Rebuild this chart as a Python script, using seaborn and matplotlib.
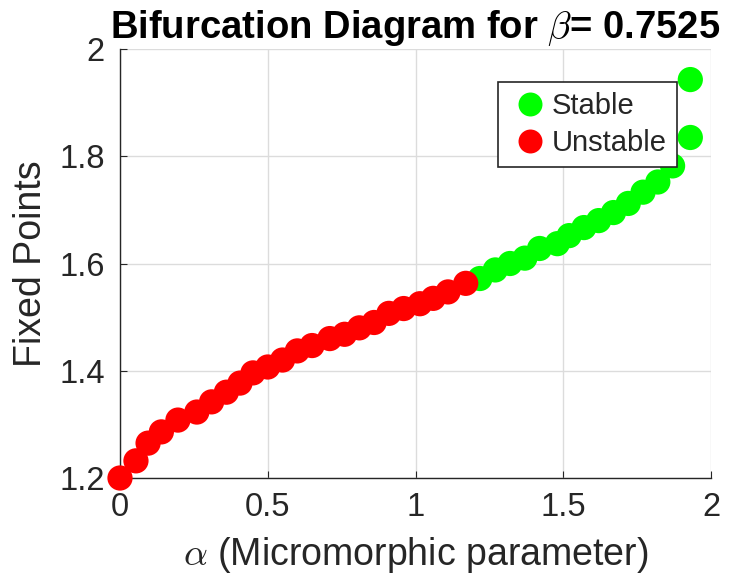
import numpy as np
import pandas as pd
import matplotlib
matplotlib.use("Agg")
import matplotlib.pyplot as plt
import seaborn as sns

# fixed points
unstable_alpha = [0.0, 0.054, 0.095, 0.14, 0.196, 0.26, 0.31, 0.36, 0.406, 0.45,
                  0.50, 0.55, 0.60, 0.65, 0.71, 0.76, 0.81, 0.86, 0.91, 0.96,
                  1.015, 1.06, 1.11, 1.17]
unstable_fp = [1.20, 1.232, 1.265, 1.286, 1.308, 1.323, 1.342, 1.36, 1.377, 1.396,
               1.407, 1.42, 1.437, 1.447, 1.46, 1.468, 1.48, 1.49, 1.507, 1.516,
               1.525, 1.535, 1.547, 1.563]
stable_alpha = [1.218, 1.27, 1.32, 1.37, 1.42, 1.48, 1.52, 1.57, 1.62, 1.67,
                1.72, 1.77, 1.82, 1.87, 1.93, 1.93]
stable_fp = [1.572, 1.588, 1.60, 1.61, 1.628, 1.637, 1.652, 1.667, 1.68, 1.695,
             1.712, 1.733, 1.752, 1.782, 1.835, 1.943]

df = pd.DataFrame({
    "alpha": stable_alpha + unstable_alpha,
    "fp": stable_fp + unstable_fp,
    "type": ["Stable"] * len(stable_alpha) + ["Unstable"] * len(unstable_alpha),
})

sns.set_style("white")
plt.rcParams["font.family"] = ["Liberation Sans", "DejaVu Sans"]
plt.rcParams["mathtext.fontset"] = "cm"

fig = plt.figure(figsize=(7.31, 5.83), dpi=100)
ax = fig.add_axes([120 / 731, 1 - 478 / 583, 591 / 731, 429 / 583])

sns.scatterplot(data=df, x="alpha", y="fp", hue="type",
                hue_order=["Stable", "Unstable"],
                palette={"Stable": "#00ff00", "Unstable": "#ff0000"},
                s=330, linewidth=0, ax=ax, zorder=3, clip_on=False)

ax.set_xlim(0, 2)
ax.set_ylim(1.2, 2)
ax.set_xticks([0, 0.5, 1, 1.5, 2])
ax.set_xticklabels(["0", "0.5", "1", "1.5", "2"])
ax.set_yticks([1.2, 1.4, 1.6, 1.8, 2])
ax.set_yticklabels(["1.2", "1.4", "1.6", "1.8", "2"])
ax.grid(True, color="#dcdcdc", linewidth=1)
ax.set_axisbelow(True)
for side in ["top", "right"]:
    ax.spines[side].set_visible(False)
for side in ["left", "bottom"]:
    ax.spines[side].set_color("#262626")
    ax.spines[side].set_linewidth(1)
ax.tick_params(direction="in", length=5, labelsize=23.5, colors="#262626",
               left=True, bottom=True)
ax.tick_params(axis="y", pad=11)
ax.tick_params(axis="x", pad=10)

ax.set_xlabel(r"$\alpha$ (Micromorphic parameter)", fontsize=27, color="#262626",
              labelpad=9)
ax.set_ylabel("Fixed Points", fontsize=27, color="#262626", labelpad=7)
ax.set_title(r"Bifurcation Diagram for $\beta$= 0.7525", fontsize=27.5,
             fontweight="bold", color="black", pad=8)

leg = ax.legend(loc="upper left", bbox_to_anchor=(378 / 591, 396 / 429), fontsize=21,
                frameon=True, fancybox=False, handletextpad=0.0, handlelength=1.5,
                borderpad=0.35, labelspacing=0.3, markerscale=0.95,
                borderaxespad=0)
leg.get_frame().set_edgecolor("#262626")
leg.get_frame().set_linewidth(1.2)
leg.get_frame().set_alpha(1)

fig.savefig("out.png", dpi=100)
